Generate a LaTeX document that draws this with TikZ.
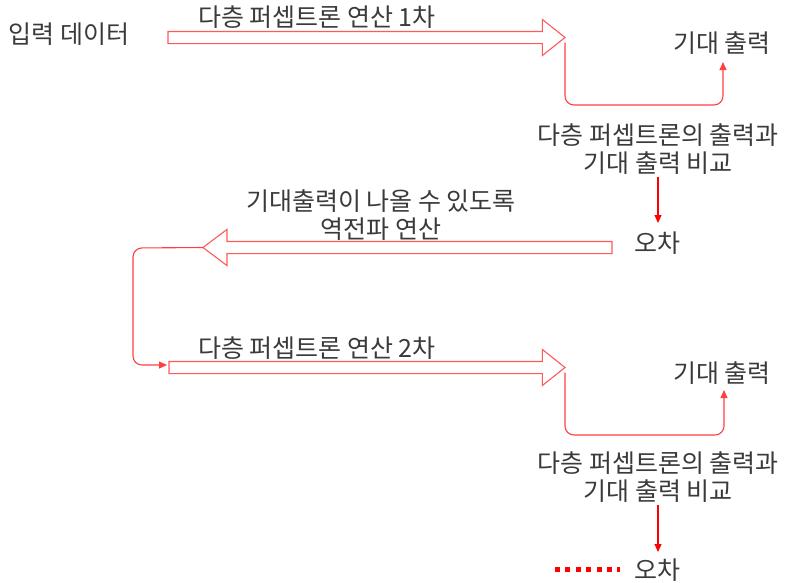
\documentclass[tikz,border=0pt]{standalone}
\usepackage{fontspec}
\newfontfamily\kr{Noto Sans CJK KR}
\usetikzlibrary{shapes.arrows,arrows.meta}
\definecolor{txt}{HTML}{3A3A3A}
\definecolor{blk}{HTML}{FF5A5A}
\definecolor{con}{HTML}{FF4040}
\tikzset{
  lbl/.style={font=\kr\fontsize{25}{28}\selectfont, text=txt, align=center, inner sep=0pt},
  blockarrow/.style={single arrow, draw=blk, line width=1.1pt, fill=white,
    inner xsep=0pt, inner ysep=5.5pt, outer sep=0pt, single arrow head extend=12pt,
    minimum height=#1},
  conn/.style={draw=con, line width=1.1pt, rounded corners=9pt, -{Triangle[length=8pt,width=7pt]}},
  downarr/.style={draw=red, line width=1.1pt, -{Triangle[length=8pt,width=7pt]}},
  dotline/.style={draw=red, line width=5pt, dash pattern=on 5pt off 5.4pt}
}
\begin{document}
\begin{tikzpicture}[x=1pt,y=-1pt]
\useasboundingbox (0,0) rectangle (786,582);
% texts
\node[lbl] (in) at (69,34) {입력 데이터};
\node[lbl] (l1) at (317,17) {다층 퍼셉트론 연산 1차};
\node[lbl] (exp1) at (722,43) {기대 출력};
\node[lbl] (cmp1) at (658,149) {다층 퍼셉트론의 출력과\\기대 출력 비교};
\node[lbl] (err1) at (657,243) {오차};
\node[lbl] (bp) at (381,215) {기대출력이 나올 수 있도록\\역전파 연산};
\node[lbl] (l2) at (317,348) {다층 퍼셉트론 연산 2차};
\node[lbl] (exp2) at (722,373) {기대 출력};
\node[lbl] (cmp2) at (658,477) {다층 퍼셉트론의 출력과\\기대 출력 비교};
\node[lbl] (err2) at (657,570) {오차};
% block arrows
\node[blockarrow=397pt, single arrow tip angle=77, anchor=tail] (a1) at (168,37.5) {};
\node[blockarrow=409pt, single arrow tip angle=74, shape border rotate=180, anchor=tail] (ab) at (612,247.5) {};
\node[blockarrow=396pt, single arrow tip angle=77, anchor=tail] (a2) at (169,367.5) {};
% coordinates
\coordinate (c1) at (723,105);
\coordinate (c2) at (724,435);
\coordinate (e1) at (723,62);
\coordinate (e2) at (724,390);
\coordinate (cb1) at (133,248);
\coordinate (cb2) at (133,365);
\coordinate (s1) at (658,177);
\coordinate (t1) at (658,223);
\coordinate (s2) at (658,505);
\coordinate (t2) at (658,552);
\coordinate (d1) at (555,569);
\coordinate (d2) at (620,569);
% connectors
\draw[conn] ([yshift=-5pt]a1.tip) |- (c1) -- (e1);
\draw[conn] ([yshift=-5pt]a2.tip) |- (c2) -- (e2);
\draw[conn] (ab.tip) -- (cb1) -- (cb2) -- ([yshift=2.5pt,xshift=-2pt]a2.tail);
\draw[downarr] (s1) -- (t1);
\draw[downarr] (s2) -- (t2);
\draw[dotline] (d1) -- (d2);
\end{tikzpicture}
\end{document}
